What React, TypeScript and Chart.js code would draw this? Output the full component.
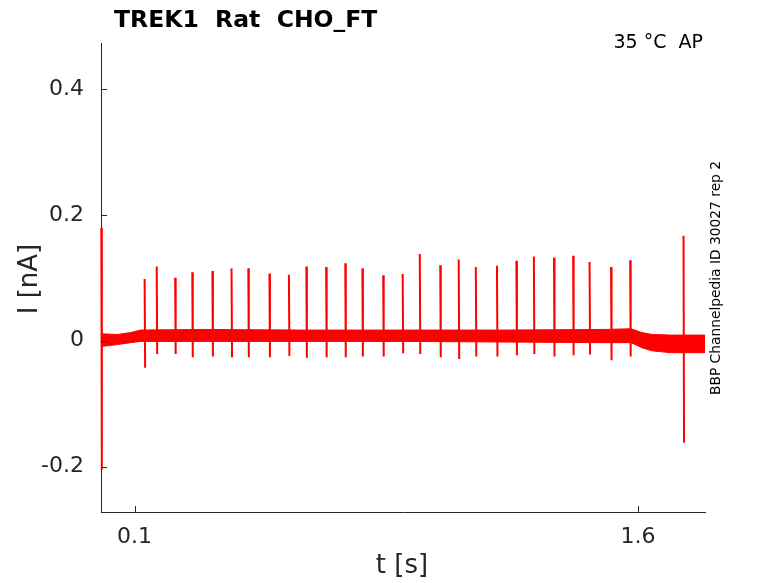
import { useEffect, useRef } from 'react';
import { Chart, registerables } from 'chart.js';

Chart.register(...registerables);

const font = 'DejaVu Sans';
const ink = '#262626';
const red = '#ff0000';

// noise band of the baseline: upper and lower edge [nA] at a few times [s]
const bandTimes = [0, 0.05, 0.088, 0.118, 0.3, 0.6, 0.9, 1.2, 1.5, 1.58, 1.612, 1.642, 1.7, 1.8];
const bandUpper = [0.011, 0.010, 0.013, 0.017, 0.018, 0.017, 0.017, 0.017, 0.018, 0.019, 0.013, 0.010, 0.009, 0.009];
const bandLower = [-0.009, -0.006, -0.003, -0.001, -0.001, -0.001, -0.001, -0.002, -0.003, -0.003, -0.011, -0.016, -0.019, -0.019];

// spikes: time [s], peak and trough [nA]
const spikeTimes = [
  0.001, 0.130, 0.166, 0.221, 0.272, 0.332, 0.389, 0.439, 0.502, 0.560, 0.612,
  0.671, 0.728, 0.779, 0.841, 0.899, 0.950, 1.011, 1.066, 1.117, 1.180,
  1.238, 1.290, 1.350, 1.407, 1.456, 1.520, 1.577, 1.736,
];
const spikePeaks = [
  0.179, 0.098, 0.118, 0.100, 0.109, 0.111, 0.115, 0.115, 0.107, 0.105, 0.118,
  0.117, 0.123, 0.115, 0.104, 0.106, 0.138, 0.120, 0.129, 0.117, 0.119,
  0.127, 0.134, 0.132, 0.135, 0.125, 0.117, 0.128, 0.167,
];
const spikeTroughs = [
  -0.205, -0.043, -0.021, -0.021, -0.026, -0.025, -0.026, -0.026, -0.026, -0.024, -0.027,
  -0.026, -0.026, -0.025, -0.025, -0.020, -0.021, -0.026, -0.029, -0.025, -0.025,
  -0.023, -0.021, -0.025, -0.023, -0.022, -0.031, -0.025, -0.162,
];

const xTicks = [0.1, 1.6];
const xTickLabels = ['0.1', '1.6'];
const yTicks = [-0.2, 0, 0.2, 0.4];
const yTickLabels = ['-0.2', '0', '0.2', '0.4'];

const decor = {
  id: 'decor',
  afterDatasetsDraw(chart: any) {
    const { ctx, chartArea: a, scales } = chart;
    ctx.save();
    ctx.strokeStyle = ink;
    ctx.lineWidth = 1;
    ctx.beginPath();
    for (const v of yTicks) {
      const y = Math.round(scales.y.getPixelForValue(v)) + 0.5;
      ctx.moveTo(a.left, y);
      ctx.lineTo(a.left + 6, y);
    }
    for (const v of xTicks) {
      const x = Math.round(scales.x.getPixelForValue(v)) + 0.5;
      ctx.moveTo(x, a.bottom);
      ctx.lineTo(x, a.bottom - 6);
    }
    ctx.stroke();
    ctx.restore();
  },
  afterDraw(chart: any) {
    const { ctx } = chart;
    ctx.save();
    ctx.fillStyle = '#000';
    ctx.textBaseline = 'alphabetic';
    ctx.textAlign = 'left';
    ctx.font = `bold 23.5px "${font}"`;
    ctx.fillText('TREK1  Rat  CHO_FT', 114, 27);

    ctx.font = `19px "${font}"`;
    ctx.textAlign = 'right';
    ctx.fillText('35 °C  AP', 703, 48);

    ctx.fillStyle = ink;
    ctx.font = `26px "${font}"`;
    ctx.textAlign = 'center';
    ctx.textBaseline = 'middle';
    ctx.fillText('t [s]', 402, 566);

    ctx.save();
    ctx.translate(30, 279);
    ctx.rotate(-Math.PI / 2);
    ctx.fillText('I [nA]', 0, 0);
    ctx.restore();

    ctx.save();
    ctx.fillStyle = '#000';
    ctx.font = `13.8px "${font}"`;
    ctx.translate(716, 278);
    ctx.rotate(-Math.PI / 2);
    ctx.fillText('BBP Channelpedia ID 30027 rep 2', 0, 0);
    ctx.restore();

    ctx.restore();
  },
};

export default function App() {
  const ref = useRef<HTMLCanvasElement>(null);

  useEffect(() => {
    if (!ref.current) return;
    const spikePoints = spikeTimes.flatMap((t, i) => [
      { x: t, y: spikePeaks[i] },
      { x: t + 0.0015, y: spikeTroughs[i] },
      { x: t + 0.0015, y: null },
    ]);
    const chart = new Chart(ref.current, {
      type: 'line',
      data: {
        datasets: [
          {
            data: bandTimes.map((t, i) => ({ x: t, y: bandLower[i] })),
            borderColor: red,
            borderWidth: 1,
            pointRadius: 0,
            fill: false,
          },
          {
            data: bandTimes.map((t, i) => ({ x: t, y: bandUpper[i] })),
            borderColor: red,
            backgroundColor: red,
            borderWidth: 1,
            pointRadius: 0,
            fill: '-1',
          },
          {
            data: spikePoints as any,
            borderColor: red,
            borderWidth: 2,
            pointRadius: 0,
            spanGaps: false,
            fill: false,
            clip: false as any,
          },
        ],
      },
      options: {
        animation: false,
        responsive: true,
        maintainAspectRatio: false,
        layout: { padding: { left: 0, top: 43, right: 73, bottom: 0 } },
        plugins: {
          legend: { display: false },
          title: { display: false },
          tooltip: { enabled: false },
        },
        scales: {
          x: {
            type: 'linear',
            min: 0,
            max: 1.8,
            afterFit: (s: any) => { s.height = 71; },
            afterBuildTicks: (s: any) => { s.ticks = xTicks.map(v => ({ value: v })); },
            grid: { drawOnChartArea: false, drawTicks: false },
            border: { display: true, color: ink, width: 1 },
            ticks: {
              padding: 12,
              color: ink,
              font: { family: font, size: 22 },
              maxRotation: 0,
              callback: (v: any) => xTickLabels[xTicks.indexOf(Number(v))] ?? '',
            },
          },
          y: {
            type: 'linear',
            min: -0.272,
            max: 0.473,
            afterFit: (s: any) => { s.width = 101; },
            afterBuildTicks: (s: any) => { s.ticks = yTicks.map(v => ({ value: v })); },
            grid: { drawOnChartArea: false, drawTicks: false },
            border: { display: true, color: ink, width: 1 },
            ticks: {
              padding: 17,
              color: ink,
              font: { family: font, size: 22 },
              callback: (v: any) => yTickLabels[yTicks.indexOf(Number(v))] ?? '',
            },
          },
        },
      },
      plugins: [decor],
    });
    return () => chart.destroy();
  }, []);

  return (
    <div style={{ position: 'absolute', left: 0, top: 0, width: 778, height: 583 }}>
      <canvas ref={ref} />
    </div>
  );
}
